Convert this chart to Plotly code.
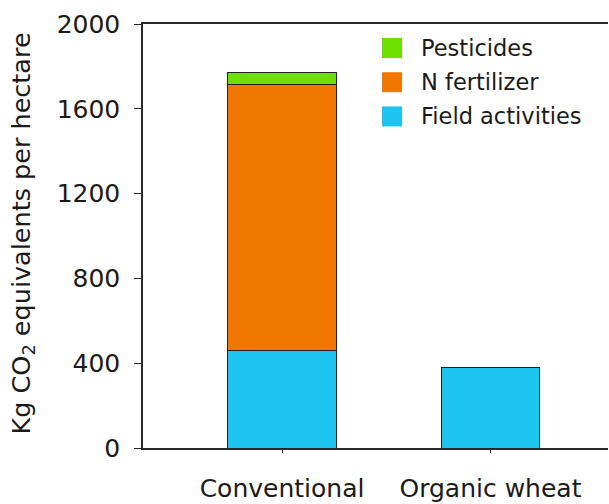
import plotly.graph_objects as go

categories = ["Conventional", "Organic wheat"]
field_activities = [462, 381]
n_fertilizer = [1255, None]
pesticides = [55, None]
bar_widths = [0.523, 0.47]
y_ticks = [0, 400, 800, 1200, 1600, 2000]
series_names = ["Field activities", "N fertilizer", "Pesticides"]
series_colors = ["#1ec4f0", "#f07800", "#6ee000"]

FONT = "DejaVu Sans"
W, H = 609, 504
L, T = 143, 24
R = W - 608
B = H - 448
PW, PH = W - L - R, H - T - B

fig = go.Figure()
for name, vals, col in zip(series_names, [field_activities, n_fertilizer, pesticides], series_colors):
    fig.add_trace(go.Bar(
        x=categories, y=vals, name=name, width=bar_widths,
        marker=dict(color=col, line=dict(color="#222222", width=1)),
        showlegend=False,
    ))

def px2x(px):
    return (px - L) / PW

def py2y(py):
    return (T + PH - py) / PH

leg_items = list(zip(series_names, series_colors))[::-1]
shapes = []
annotations = []
for i, (name, col) in enumerate(leg_items):
    top = 38 + i * 34.2
    shapes.append(dict(type="rect", xref="paper", yref="paper",
                       x0=px2x(382), x1=px2x(402), y0=py2y(top + 20), y1=py2y(top),
                       fillcolor=col, line=dict(width=0)))
    annotations.append(dict(xref="paper", yref="paper", x=px2x(419), y=py2y(top + 10),
                            xanchor="left", yanchor="middle", text=name, showarrow=False,
                            font=dict(family=FONT, size=22.5, color="#1a1a1a")))

annotations.append(dict(xref="paper", yref="paper", x=px2x(22), y=py2y(233.5),
                        xanchor="center", yanchor="middle", textangle=-90,
                        text="Kg CO<sub>2</sub> equivalents per hectare", showarrow=False,
                        font=dict(family=FONT, size=25.5, color="#1a1a1a")))

fig.update_layout(
    barmode="stack",
    width=W, height=H,
    margin=dict(l=L, r=R, t=T, b=B, pad=0, autoexpand=False),
    paper_bgcolor="white", plot_bgcolor="white",
    font=dict(family=FONT, size=25, color="#1a1a1a"),
    shapes=shapes, annotations=annotations,
    xaxis=dict(range=[-0.667, 1.564], showline=True, linecolor="#2a2a2a", linewidth=1.5,
               mirror=True, ticks="outside", ticklen=3, tickcolor="#2a2a2a",
               ticklabelstandoff=14, showgrid=False, zeroline=False, automargin=False,
               tickfont=dict(family=FONT, size=25, color="#1a1a1a")),
    yaxis=dict(range=[0, 2000], tickvals=y_ticks, showline=True, linecolor="#2a2a2a",
               linewidth=1.5, ticks="outside", ticklen=7, tickcolor="#2a2a2a",
               ticklabelstandoff=9, showgrid=False, zeroline=False, automargin=False,
               tickfont=dict(family=FONT, size=25, color="#1a1a1a")),
)

fig.write_html("out.html",
               config={"displayModeBar": False},
               post_script="document.documentElement.style.margin='0';"
                           "document.body.style.margin='0';"
                           "document.body.style.overflow='hidden';")
